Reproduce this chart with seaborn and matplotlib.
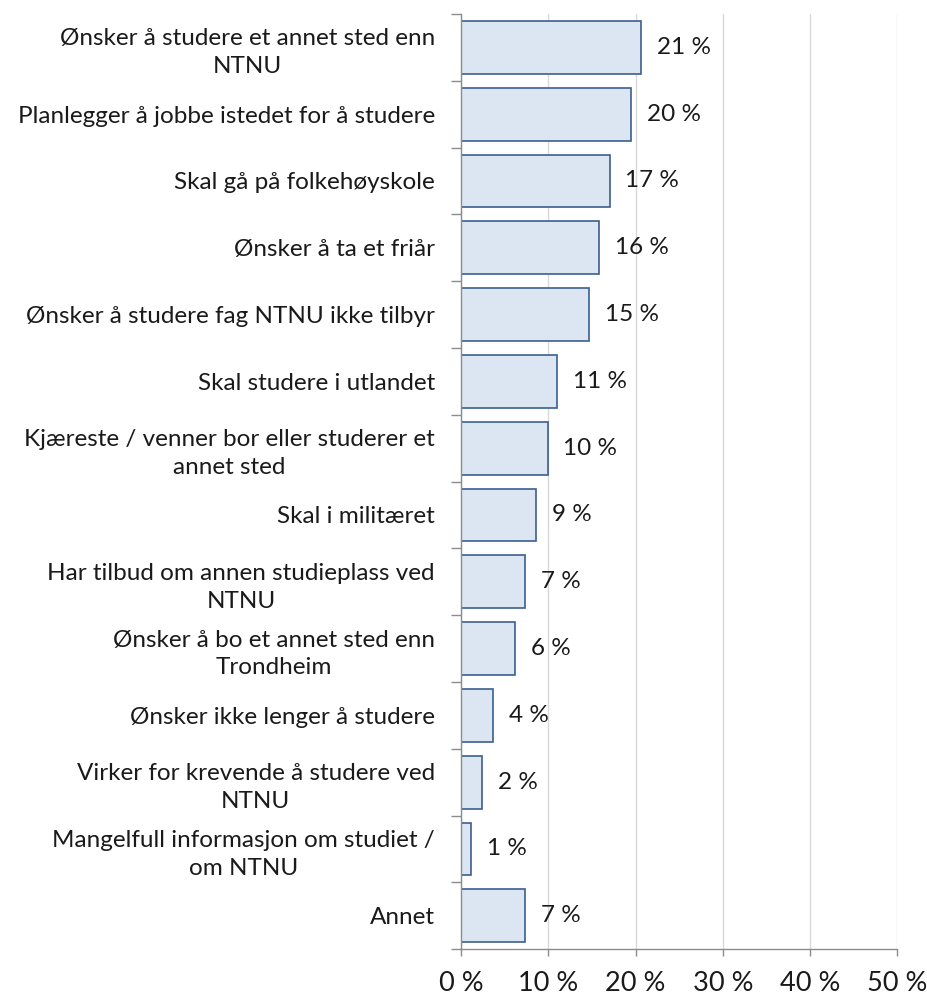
import matplotlib
matplotlib.use("Agg")
import matplotlib.pyplot as plt
import seaborn as sns
import pandas as pd
import numpy as np
from matplotlib.ticker import FixedLocator

categories = [
    "Ønsker å studere et annet sted enn\nNTNU",
    "Planlegger å jobbe istedet for å studere",
    "Skal gå på folkehøyskole",
    "Ønsker å ta et friår",
    "Ønsker å studere fag NTNU ikke tilbyr",
    "Skal studere i utlandet",
    "Kjæreste / venner bor eller studerer et\nannet sted",
    "Skal i militæret",
    "Har tilbud om annen studieplass ved\nNTNU",
    "Ønsker å bo et annet sted enn\nTrondheim",
    "Ønsker ikke lenger å studere",
    "Virker for krevende å studere ved\nNTNU",
    "Mangelfull informasjon om studiet /\nom NTNU",
    "Annet",
]
values = [20.6, 19.5, 17.0, 15.8, 14.7, 11.0, 9.9, 8.6, 7.3, 6.2, 3.7, 2.4, 1.1, 7.3]
xticks = [0, 10, 20, 30, 40, 50]

sns.set_theme(style="white")
plt.rcParams['font.family'] = ['Lato', 'DejaVu Sans']

FS = 17.5
df = pd.DataFrame({"kategori": categories, "verdi": values})

fig = plt.figure(figsize=(9.28, 9.96), dpi=100)
ax = fig.add_axes([0.497, 0.047, 0.470, 0.939])

sns.barplot(data=df, y="kategori", x="verdi", orient="h", ax=ax,
            color="#DCE6F2", edgecolor="#3B5F8F", linewidth=1.2,
            width=0.79, saturation=1)

ax.set_xlim(0, 50)
ax.set_ylim(len(categories) - 0.5, -0.5)
ax.set_xlabel("")
ax.set_ylabel("")

ax.set_xticks(xticks)
ax.set_xticklabels([f"{t} %" for t in xticks], fontsize=19.5, color="#1a1a1a")
ax.xaxis.grid(True, color="#D9D9D9", linewidth=1)
ax.set_axisbelow(True)

ax.tick_params(axis="y", which="major", length=0, pad=19, labelsize=FS, labelcolor="#1a1a1a")
for lab in ax.get_yticklabels():
    lab.set_multialignment("center")
    lab.set_linespacing(1.4)
ax.yaxis.set_minor_locator(FixedLocator(np.arange(-0.5, len(categories), 1.0)))
ax.tick_params(axis="y", which="minor", length=7, width=1, color="#8C8C8C", direction="out", left=True)
ax.tick_params(axis="x", which="major", length=5, width=1, color="#8C8C8C", direction="out", bottom=True, pad=11)

for s in ["top", "right"]:
    ax.spines[s].set_visible(False)
for s in ["left", "bottom"]:
    ax.spines[s].set_color("#8C8C8C")
    ax.spines[s].set_linewidth(1)

for i, v in enumerate(values):
    ax.text(v + 1.8, i, f"{int(round(v))} %", va="center", ha="left",
            fontsize=FS, color="#1a1a1a")

fig.savefig("out.png", dpi=100)
